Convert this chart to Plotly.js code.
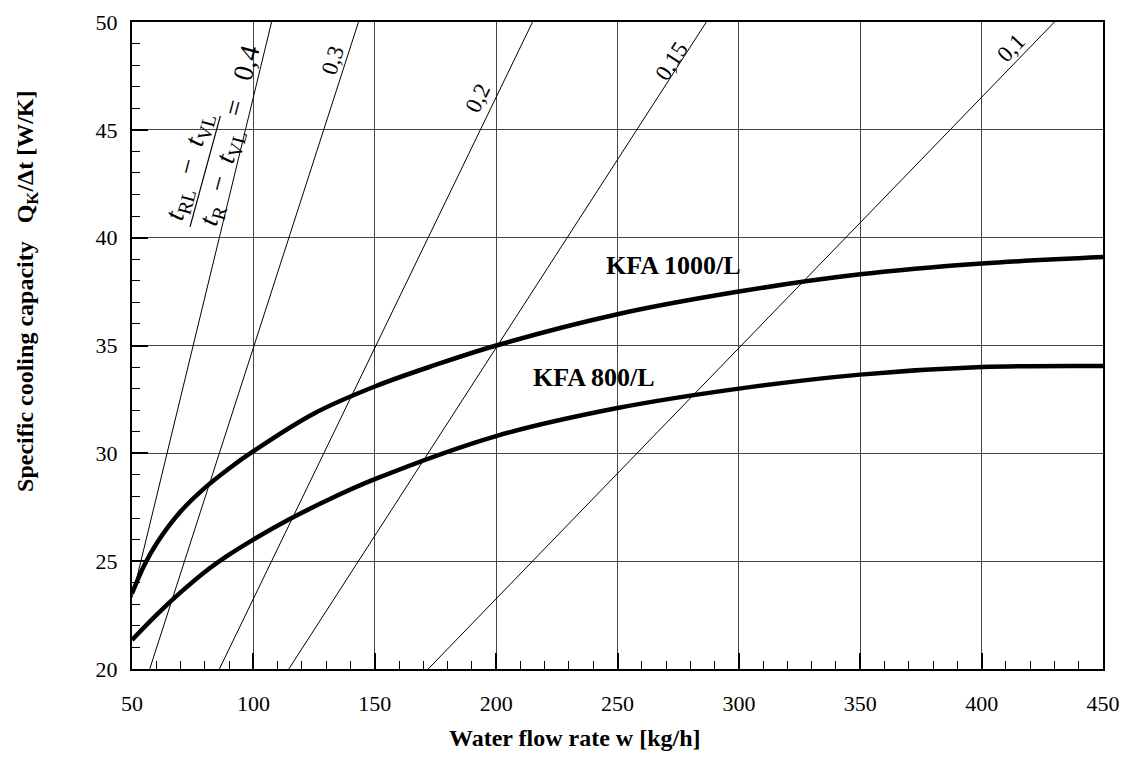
<!DOCTYPE html>
<html>
<head>
<meta charset="utf-8">
<script src="https://cdn.plot.ly/plotly-3.0.1.min.js"></script>
<style>html,body{margin:0;padding:0;background:#fff;}#chart{width:1136px;height:762px;}</style>
</head>
<body>
<div id="chart"></div>
<script>
// ---- data ----
const kfa1000X = [50, 55, 60, 70, 80, 90, 100, 125, 150, 175, 200, 250, 300, 350, 400, 450];
const kfa1000Y = [23.5, 24.8, 25.8, 27.3, 28.4, 29.3, 30.1, 31.85, 33.1, 34.1, 35.0, 36.45, 37.5, 38.3, 38.8, 39.1];
const kfa800X = [50, 60, 70, 80, 90, 100, 115, 130, 150, 200, 250, 300, 350, 400, 450];
const kfa800Y = [21.35, 22.5, 23.55, 24.5, 25.3, 26.0, 26.95, 27.8, 28.8, 30.8, 32.1, 33.0, 33.65, 34.0, 34.05];

// straight ratio lines (tRL - tVL)/(tR - tVL), read endpoints
const phiLabels = ['0,4', '0,3', '0,2', '0,15', '0,1'];
const phiStartX = [50, 57.3, 86, 114.6, 172];
const phiStartY = [23.3, 20, 20, 20, 20];
const phiEndX = [107.5, 143.3, 215, 286.6, 430];
const phiEndY = [50, 50, 50, 50, 50];

const xTickVals = [50, 100, 150, 200, 250, 300, 350, 400, 450];
const yTickVals = [20, 25, 30, 35, 40, 45, 50];

const serif = 'Liberation Serif, Times New Roman, serif';

const traces = [];
for (let i = 0; i < phiLabels.length; i++) {
  traces.push({
    x: [phiStartX[i], phiEndX[i]], y: [phiStartY[i], phiEndY[i]],
    mode: 'lines', line: {color: '#000', width: 1}, hoverinfo: 'skip', showlegend: false
  });
}
traces.push({x: kfa1000X, y: kfa1000Y, mode: 'lines', name: 'KFA 1000/L',
  line: {color: '#000', width: 4.5, shape: 'spline', smoothing: 1}, showlegend: false});
traces.push({x: kfa800X, y: kfa800Y, mode: 'lines', name: 'KFA 800/L',
  line: {color: '#000', width: 4.5, shape: 'spline', smoothing: 1}, showlegend: false});

// label placement (position/style only)
const lineLabelPos = [null, {x: 132.8, y: 48.2, a: -72}, {x: 192.5, y: 46.5, a: -64}, {x: 272.3, y: 48.15, a: -57}, {x: 412.4, y: 48.8, a: -46}];

const annotations = [];
for (let i = 1; i < phiLabels.length; i++) {
  const p = lineLabelPos[i];
  annotations.push({x: p.x, y: p.y, xref: 'x', yref: 'y', text: phiLabels[i], showarrow: false,
    textangle: p.a, font: {family: serif, size: 23, color: '#000'}, xanchor: 'center', yanchor: 'middle'});
}
// fraction label for 0,4
const fracFont = {family: serif, size: 28, color: '#000'};
annotations.push({x: 73.6, y: 43.3, xref: 'x', yref: 'y',
  text: '<i>t</i><sub>RL</sub>  \u2212  <i>t</i><sub>VL</sub>',
  showarrow: false, textangle: -75, font: fracFont, xanchor: 'center', yanchor: 'middle'});
annotations.push({x: 86.9, y: 42.8, xref: 'x', yref: 'y',
  text: '<i>t</i><sub>R</sub>  \u2212  <i>t</i><sub>VL</sub>',
  showarrow: false, textangle: -75, font: fracFont, xanchor: 'center', yanchor: 'middle'});
annotations.push({x: 95.0, y: 47.3, xref: 'x', yref: 'y', text: '=   ' + phiLabels[0],
  showarrow: false, textangle: -75, font: fracFont, xanchor: 'center', yanchor: 'middle'});
// curve labels
annotations.push({x: 273.1, y: 38.73, xref: 'x', yref: 'y', text: '<b>KFA 1000/L</b>', showarrow: false,
  font: {family: serif, size: 26, color: '#000'}, xanchor: 'center', yanchor: 'middle'});
annotations.push({x: 240.3, y: 33.52, xref: 'x', yref: 'y', text: '<b>KFA 800/L</b>', showarrow: false,
  font: {family: serif, size: 26, color: '#000'}, xanchor: 'center', yanchor: 'middle'});
// axis titles
annotations.push({x: 0.456, y: -0.107, xref: 'paper', yref: 'paper', text: '<b>Water flow rate w [kg/h]</b>',
  showarrow: false, font: {family: serif, size: 24, color: '#000'}, xanchor: 'center', yanchor: 'middle'});
annotations.push({x: -0.108, y: 0.583, xref: 'paper', yref: 'paper',
  text: '<b>Specific cooling capacity   Q<sub>K</sub>/\u0394t [W/K]</b>', textangle: -90,
  showarrow: false, font: {family: serif, size: 24, color: '#000'}, xanchor: 'center', yanchor: 'middle'});

const shapes = [{type: 'line', xref: 'x', yref: 'y', x0: 73.9, y0: 40.5, x1: 86.4, y1: 45.65,
  line: {color: '#000', width: 1.2}}];

const axisCommon = {
  showgrid: true, gridcolor: '#444', gridwidth: 1, zeroline: false,
  showline: true, linecolor: '#000', linewidth: 2, mirror: true,
  ticks: 'inside', ticklen: 16, tickwidth: 2, tickcolor: '#000',
  tickfont: {family: serif, size: 22, color: '#000'},
};

const layout = {
  width: 1136, height: 762,
  margin: {l: 132, r: 33, t: 22, b: 93},
  paper_bgcolor: '#fff', plot_bgcolor: '#fff',
  showlegend: false,
  xaxis: Object.assign({}, axisCommon, {range: [50, 450], tickmode: 'array', tickvals: xTickVals,
    ticktext: xTickVals.map(String), ticklabelstandoff: 14,
    minor: {ticks: 'inside', ticklen: 8, tickwidth: 1, tickcolor: '#000', dtick: 10, tick0: 50, showgrid: false}}),
  yaxis: Object.assign({}, axisCommon, {range: [20, 50], tickmode: 'array', tickvals: yTickVals,
    ticktext: yTickVals.map(String), ticklabelstandoff: 8,
    minor: {ticks: 'inside', ticklen: 8, tickwidth: 1, tickcolor: '#000', dtick: 1, tick0: 20, showgrid: false}}),
  annotations: annotations,
  shapes: shapes
};

Plotly.newPlot('chart', traces, layout, {displayModeBar: false, staticPlot: true});
</script>
</body>
</html>
